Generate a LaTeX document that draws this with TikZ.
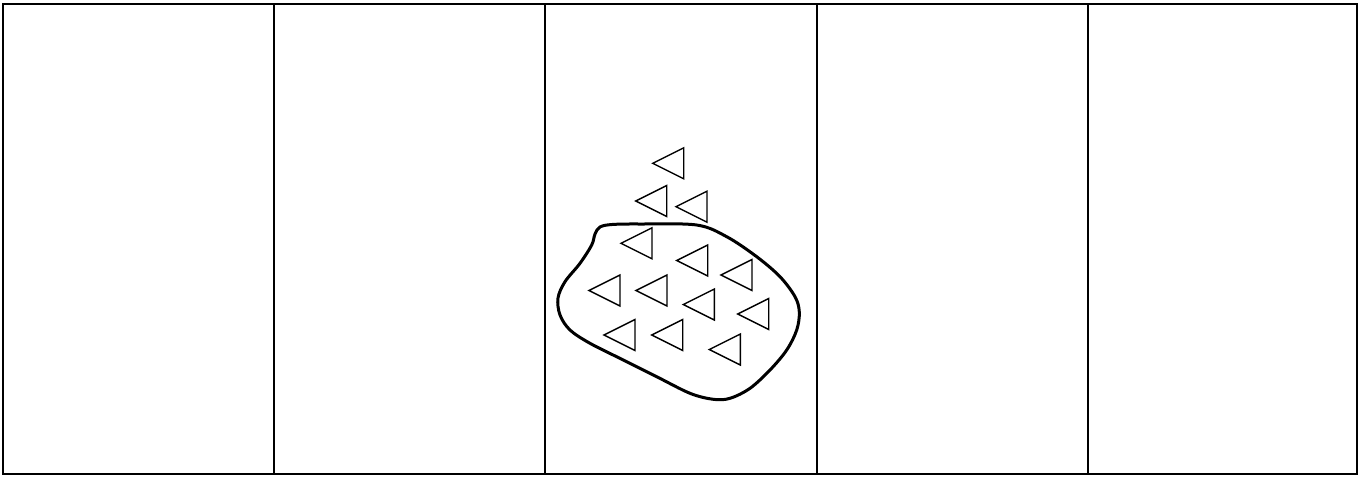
\documentclass[tikz,border=0pt]{standalone}
\begin{document}
\begin{tikzpicture}[x=0.5pt,y=-0.5pt,
  frame/.style={line width=1pt,draw=black},
  blob/.style={line width=1.5pt,draw=black},
  tri/.style={line width=0.7pt,draw=black,line join=miter}]
\useasboundingbox (0,0) rectangle (1360,478);
\fill[white] (0,0) rectangle (1360,478);
% outer frame and panel dividers
\draw[frame] (3,4) rectangle (1357,474);
\foreach \xx in {274,545,817,1088} \draw[frame] (\xx,4) -- (\xx,474);
% blob
\draw[blob] plot[smooth cycle,tension=0.55] coordinates {
 (600,227) (612,224.5) (640,224) (696.7,225) (726.7,236.7) (756.7,256.7)
 (780,276.7) (795,296.7) (799.3,312) (796.7,330) (786.7,350) (770,370)
 (750,388.3) (730,398.3) (713.3,399.3) (690,393.3) (656.7,376.7) (623.3,360)
 (590,343.3) (570,330) (560,315) (558,298) (565,281.7) (580,263.3)
 (591.7,245) (595,234)};
% triangles (apex point, pointing left)
\foreach \ax/\ay in {652.7/163.3, 635.7/201, 676/206.7, 621/243.3, 676.7/260.5,
  721/275, 589/290.5, 636/290.5, 683.3/304.5, 737.7/314, 604/335, 651.7/335, 709.3/349.5}
  \draw[tri] (\ax,\ay) -- ++(31,-15.5) -- ++(0,31) -- cycle;
\end{tikzpicture}
\end{document}
